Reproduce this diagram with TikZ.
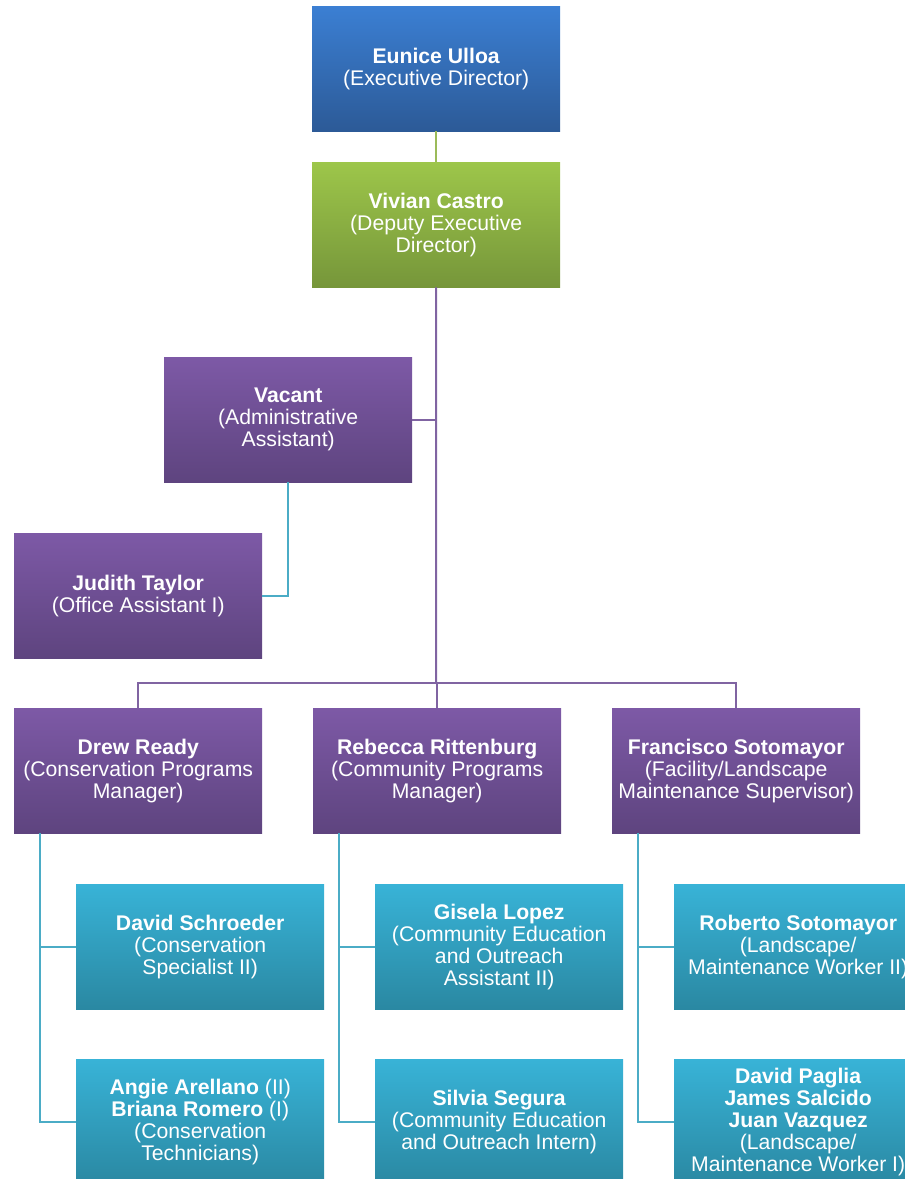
\documentclass[tikz,border=0pt]{standalone}
\usepackage{fontspec}
\setmainfont{Liberation Sans}
\definecolor{blueT}{HTML}{3B7FD3}
\definecolor{blueB}{HTML}{2C5A97}
\definecolor{greenT}{HTML}{9DC64A}
\definecolor{greenB}{HTML}{76963A}
\definecolor{purpT}{HTML}{7D59A6}
\definecolor{purpB}{HTML}{5E447F}
\definecolor{tealT}{HTML}{38B3D7}
\definecolor{tealB}{HTML}{2A88A2}
\definecolor{lineG}{HTML}{9BBB59}
\definecolor{lineP}{HTML}{8064A2}
\definecolor{lineT}{HTML}{4BACC6}
\tikzset{
  box/.style={rectangle, anchor=north west, minimum width=248pt, minimum height=125pt,
    inner sep=0pt, align=center, text=white, font=\fontsize{21.2}{22}\selectfont},
  bluebox/.style={box, top color=blueT, bottom color=blueB},
  greenbox/.style={box, top color=greenT, bottom color=greenB},
  purpbox/.style={box, top color=purpT, bottom color=purpB},
  tealbox/.style={box, top color=tealT, bottom color=tealB},
  gline/.style={draw=lineG, line width=1.8pt},
  pline/.style={draw=lineP, line width=2pt},
  tline/.style={draw=lineT, line width=2pt},
}
\begin{document}
\begin{tikzpicture}[x=1pt,y=-1pt]
\useasboundingbox (0,0) rectangle (905,1179);
\clip (0,0) rectangle (905,1179);
\coordinate (hub) at (436,683);
% nodes
\node[bluebox] (eunice) at (312,6) {\textbf{Eunice Ulloa}\\(Executive Director)};
\node[greenbox] (vivian) at (312,162) {\textbf{Vivian Castro}\\(Deputy Executive\\Director)};
\node[purpbox] (vacant) at (164,357) {\textbf{Vacant}\\(Administrative\\Assistant)};
\node[purpbox] (judith) at (14,533) {\textbf{Judith Taylor}\\(Office Assistant I)};
\node[purpbox] (drew) at (14,708) {\textbf{Drew Ready}\\(Conservation Programs\\Manager)};
\node[purpbox] (rebecca) at (313,708) {\textbf{Rebecca Rittenburg}\\(Community Programs\\Manager)};
\node[purpbox] (franc) at (612,708) {\textbf{Francisco Sotomayor}\\(Facility/Landscape\\Maintenance Supervisor)};
\node[tealbox] (schroeder) at (76,884) {\textbf{David Schroeder}\\(Conservation\\Specialist II)};
\node[tealbox] (angie) at (76,1059) {\textbf{Angie Arellano} (II)\\\textbf{Briana Romero} (I)\\(Conservation\\Technicians)};
\node[tealbox] (gisela) at (375,884) {\textbf{Gisela Lopez}\\(Community Education\\and Outreach\\Assistant II)};
\node[tealbox] (silvia) at (375,1059) {\textbf{Silvia Segura}\\(Community Education\\and Outreach Intern)};
\node[tealbox] (roberto) at (674,884) {\textbf{Roberto Sotomayor}\\(Landscape/\\Maintenance Worker II)};
\node[tealbox] (paglia) at (674,1059) {\textbf{David Paglia}\\\textbf{James Salcido}\\\textbf{Juan Vazquez}\\(Landscape/\\Maintenance Worker I)};
% connectors
\draw[gline] (eunice.south) -- (vivian.north);
\draw[pline] (vivian.south) -- (hub);
\draw[pline] (vacant.east) -- (vacant.east -| vivian.south);
\draw[pline] (drew.north) |- (hub) -| (franc.north);
\draw[pline] (rebecca.north) -- (rebecca.north |- hub);
\draw[tline] (vacant.south) |- (judith.east);
\draw[tline] ([xshift=26pt]drew.south west) |- (schroeder.west);
\draw[tline] ([xshift=26pt]drew.south west) |- (angie.west);
\draw[tline] ([xshift=26pt]rebecca.south west) |- (gisela.west);
\draw[tline] ([xshift=26pt]rebecca.south west) |- (silvia.west);
\draw[tline] ([xshift=26pt]franc.south west) |- (roberto.west);
\draw[tline] ([xshift=26pt]franc.south west) |- (paglia.west);
\end{tikzpicture}
\end{document}
